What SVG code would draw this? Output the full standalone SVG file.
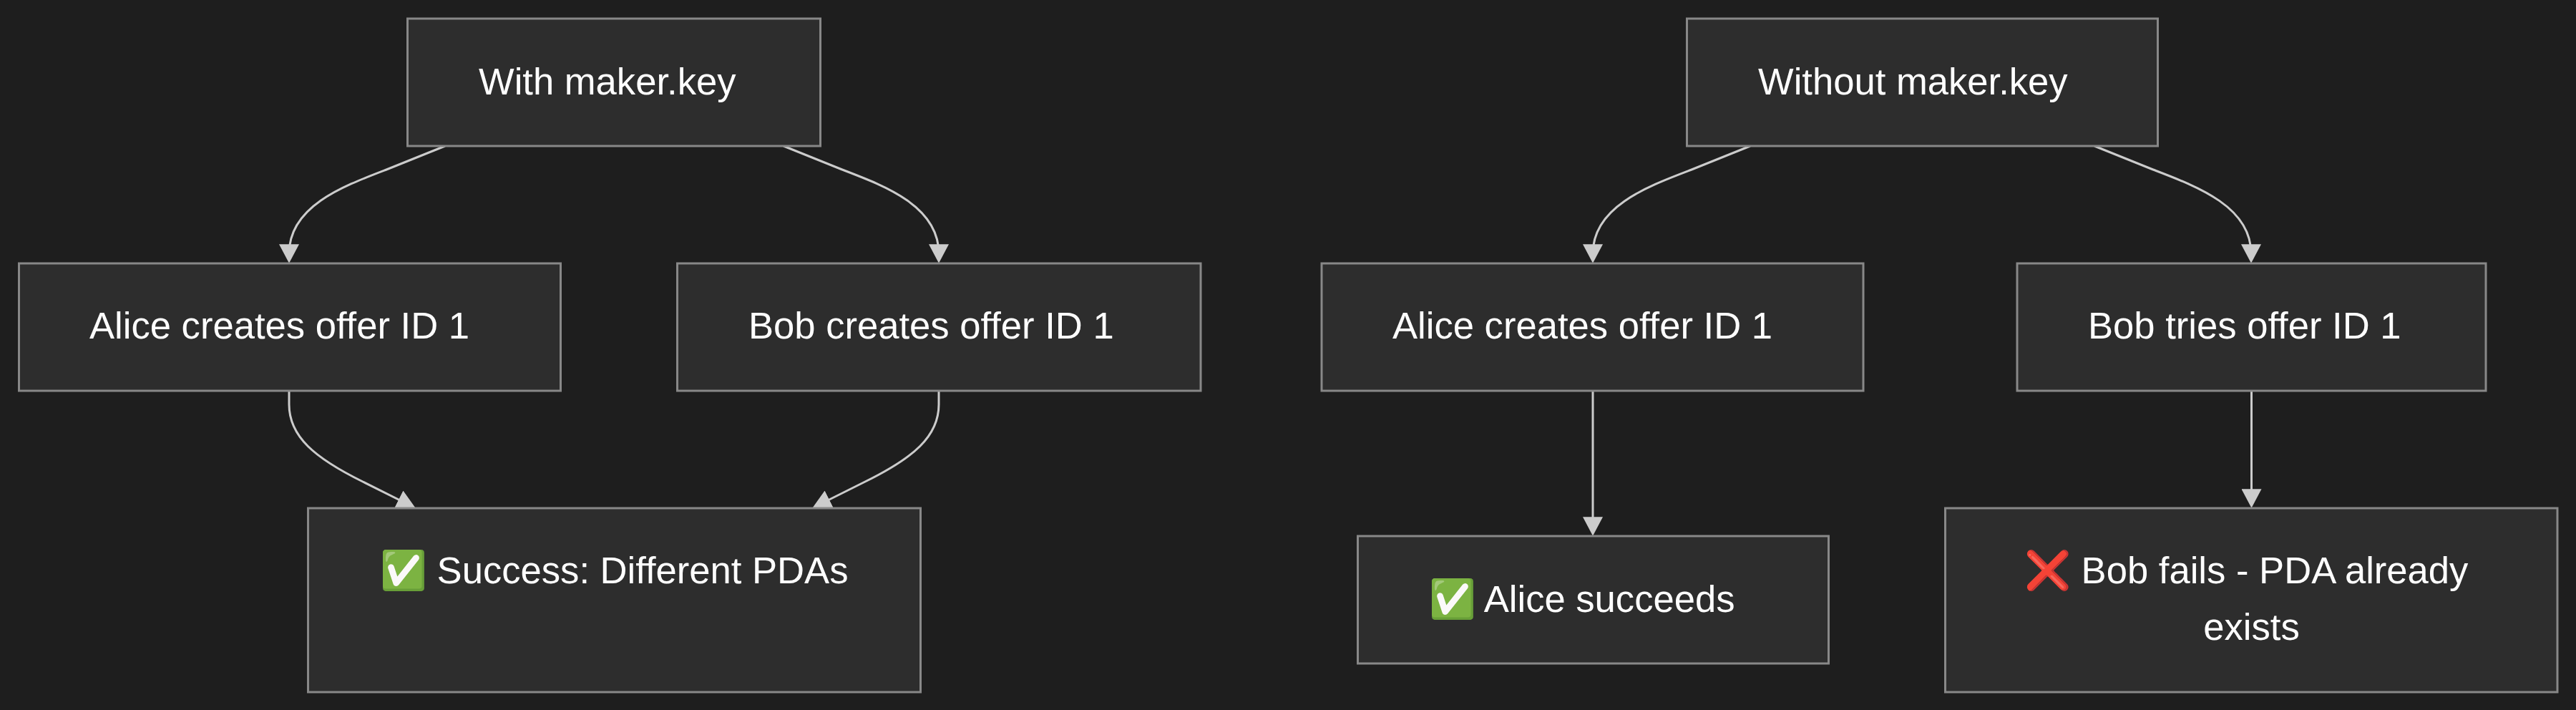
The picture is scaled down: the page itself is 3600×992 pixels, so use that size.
<svg xmlns="http://www.w3.org/2000/svg" width="3600" height="992" viewBox="0 0 3600 992">
<style>
.n{fill:#2d2d2d;stroke:#888;stroke-width:3}
.t{fill:#fff;font-family:"Liberation Sans",Arial,sans-serif;font-size:52.6px}
.e{fill:none;stroke:#ccc;stroke-width:3;marker-end:url(#a)}
</style>
<defs><marker id="a" viewBox="0 0 10 10" refX="5" refY="5" markerUnits="userSpaceOnUse" markerWidth="26.5" markerHeight="28" orient="auto" preserveAspectRatio="none"><path d="M0,0L10,5L0,10z" fill="#ccc"/></marker></defs>
<rect width="3600" height="992" fill="#1e1e1e"/>
<g id="connectors">
<path class="e" d="M622,204L540,237C480,260 404,288 404,354.5"/>
<path class="e" d="M1095,204L1177,237C1237,260 1312,288 1312,354.5"/>
<path class="e" d="M404,547L404,565C404,610 440,640 507,673L569,704"/>
<path class="e" d="M1312,547L1312,565C1312,610 1276,640 1209,673L1147,704"/>
<path class="e" d="M2446,204L2364,237C2304,260 2226,288 2226,354.5"/>
<path class="e" d="M2927,204L3009,237C3069,260 3146,288 3146,354.5"/>
<path class="e" d="M2226,546V735.5"/>
<path class="e" d="M3146.5,546V696.5"/>
</g>
<g id="with"><rect class="n" x="569.5" y="26" width="577" height="178"/><text class="t" x="669" y="132">With maker.key</text></g>
<g id="alice1"><rect class="n" x="26.5" y="368" width="757" height="178"/><text class="t" x="125" y="473">Alice creates offer ID 1</text></g>
<g id="bob1"><rect class="n" x="946.5" y="368" width="731.5" height="178"/><text class="t" x="1046" y="473">Bob creates offer ID 1</text></g>
<g id="success"><rect class="n" x="430.5" y="710" width="856" height="257"/><text class="t" x="531" y="815">✅ Success: Different PDAs</text></g>
<g id="without"><rect class="n" x="2357.5" y="26" width="658" height="178"/><text class="t" x="2457" y="132">Without maker.key</text></g>
<g id="alice2"><rect class="n" x="1847" y="368" width="757" height="178"/><text class="t" x="1946" y="473">Alice creates offer ID 1</text></g>
<g id="bob2"><rect class="n" x="2819" y="368" width="655" height="178"/><text class="t" x="2918" y="473">Bob tries offer ID 1</text></g>
<g id="alice3"><rect class="n" x="1897.5" y="749" width="658" height="178"/><text class="t" x="1997" y="855">✅ Alice succeeds</text></g>
<g id="bobfail"><rect class="n" x="2718.5" y="710" width="855.5" height="257"/><text class="t" x="2829" y="815">❌ Bob fails - PDA already</text><text class="t" x="3146.5" y="894" text-anchor="middle">exists</text></g>
</svg>
